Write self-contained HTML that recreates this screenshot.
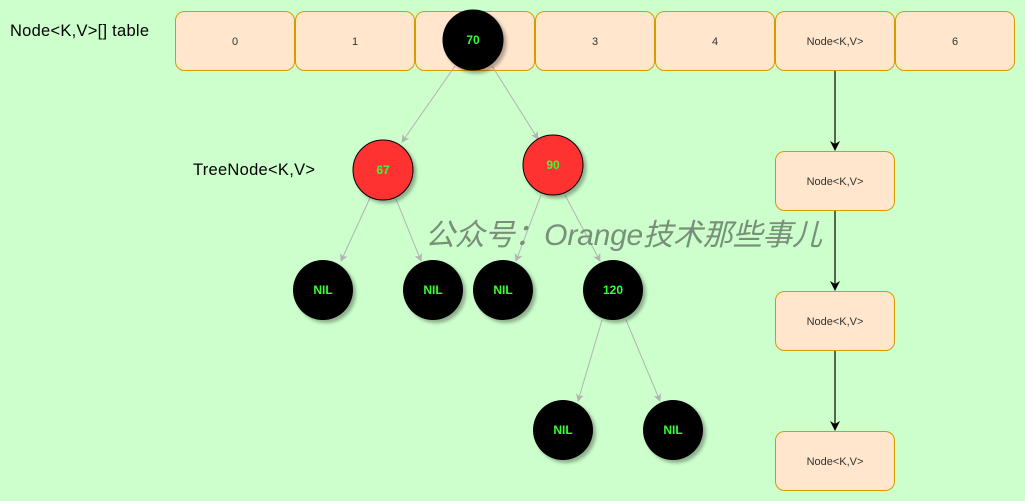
<!DOCTYPE html>
<html><head><meta charset="utf-8"><style>
html,body{margin:0;padding:0;background:#ccffcc;}
svg{display:block;font-family:"Liberation Sans","Noto Sans CJK SC",sans-serif;}
</style></head><body>
<svg width="1025" height="501" viewBox="0 0 1025 501">
<defs>
<marker id="ag" markerWidth="8" markerHeight="8" refX="7" refY="4" orient="auto" markerUnits="userSpaceOnUse"><path d="M0,0 L8,4 L0,8 L2,4 z" fill="#b3b3b3"/></marker>
<marker id="ab" markerWidth="10" markerHeight="10" refX="9" refY="5" orient="auto" markerUnits="userSpaceOnUse"><path d="M0,0 L10,5 L0,10 L3,5 z" fill="#000"/></marker>
<filter id="sh"><feDropShadow dx="3" dy="3" stdDeviation="1.5" flood-color="#000" flood-opacity="0.3"/></filter>
</defs>
<rect width="1025" height="501" fill="#ccffcc"/>
<text x="10" y="36" font-size="16.5" fill="#000" textLength="139">Node&lt;K,V&gt;[] table</text>
<text x="193" y="175" font-size="16.5" fill="#000" textLength="122">TreeNode&lt;K,V&gt;</text>
<g font-size="11" fill="#333" text-anchor="middle">
<g><rect x="175.5" y="11.5" width="119" height="59" rx="9" fill="#ffe6cc" stroke="#d79b00"/><text x="235" y="45">0</text></g>
<g><rect x="295.5" y="11.5" width="119" height="59" rx="9" fill="#ffe6cc" stroke="#d79b00"/><text x="355" y="45">1</text></g>
<g><rect x="415.5" y="11.5" width="119" height="59" rx="9" fill="#ffe6cc" stroke="#d79b00"/></g>
<g><rect x="535.5" y="11.5" width="119" height="59" rx="9" fill="#ffe6cc" stroke="#d79b00"/><text x="595" y="45">3</text></g>
<g><rect x="655.5" y="11.5" width="119" height="59" rx="9" fill="#ffe6cc" stroke="#d79b00"/><text x="715" y="45">4</text></g>
<g><rect x="775.5" y="11.5" width="119" height="59" rx="9" fill="#ffe6cc" stroke="#d79b00"/><text x="835" y="45">Node&lt;K,V&gt;</text></g>
<g><rect x="895.5" y="11.5" width="119" height="59" rx="9" fill="#ffe6cc" stroke="#d79b00"/><text x="955" y="45">6</text></g>
<g><rect x="775.5" y="151.5" width="119" height="59" rx="9" fill="#ffe6cc" stroke="#d79b00"/><text x="835" y="185">Node&lt;K,V&gt;</text></g>
<g><rect x="775.5" y="291.5" width="119" height="59" rx="9" fill="#ffe6cc" stroke="#d79b00"/><text x="835" y="325">Node&lt;K,V&gt;</text></g>
<g><rect x="775.5" y="431.5" width="119" height="59" rx="9" fill="#ffe6cc" stroke="#d79b00"/><text x="835" y="465">Node&lt;K,V&gt;</text></g>
</g>
<g stroke="#000" stroke-width="1.2">
<line x1="835" y1="71" x2="835" y2="150" marker-end="url(#ab)"/>
<line x1="835" y1="211" x2="835" y2="290" marker-end="url(#ab)"/>
<line x1="835" y1="351" x2="835" y2="430" marker-end="url(#ab)"/>
</g>
<g stroke="#b3b3b3" stroke-width="1">
<line x1="455" y1="66" x2="402" y2="142" marker-end="url(#ag)"/>
<line x1="492" y1="66" x2="538" y2="139" marker-end="url(#ag)"/>
<line x1="370" y1="198" x2="341" y2="261" marker-end="url(#ag)"/>
<line x1="396" y1="199" x2="421" y2="261" marker-end="url(#ag)"/>
<line x1="541" y1="195" x2="516" y2="261" marker-end="url(#ag)"/>
<line x1="565" y1="195" x2="600" y2="261" marker-end="url(#ag)"/>
<line x1="602" y1="320" x2="578" y2="401" marker-end="url(#ag)"/>
<line x1="626" y1="320" x2="660" y2="401" marker-end="url(#ag)"/>
</g>
<text x="425" y="245" font-size="30" font-style="italic" fill="#7a8f7a" textLength="397">公众号：Orange技术那些事儿</text>
<g font-size="12" font-weight="bold" fill="#33ff33" text-anchor="middle" filter="url(#sh)">
<g><circle cx="473" cy="40" r="30" fill="#000" stroke="#000"/><text x="473" y="44">70</text></g>
<g><circle cx="383" cy="170" r="30" fill="#ff3333" stroke="#000"/><text x="383" y="174">67</text></g>
<g><circle cx="553" cy="165" r="30" fill="#ff3333" stroke="#000"/><text x="553" y="169">90</text></g>
<g><circle cx="323" cy="290" r="30" fill="#000"/><text x="323" y="294">NIL</text></g>
<g><circle cx="433" cy="290" r="30" fill="#000"/><text x="433" y="294">NIL</text></g>
<g><circle cx="503" cy="290" r="30" fill="#000"/><text x="503" y="294">NIL</text></g>
<g><circle cx="613" cy="290" r="30" fill="#000"/><text x="613" y="294">120</text></g>
<g><circle cx="563" cy="430" r="30" fill="#000"/><text x="563" y="434">NIL</text></g>
<g><circle cx="673" cy="430" r="30" fill="#000"/><text x="673" y="434">NIL</text></g>
</g>
</svg>
</body></html>
